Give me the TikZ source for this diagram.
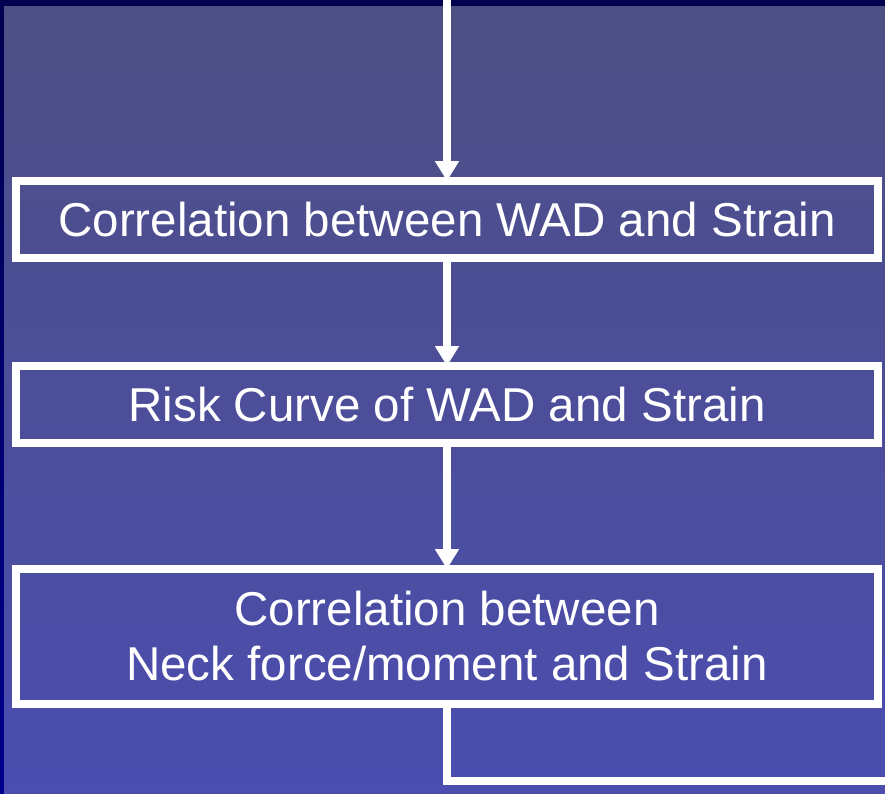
\documentclass[tikz,border=0pt]{standalone}
\usepackage{fontspec}
\setmainfont{Liberation Sans}
\usetikzlibrary{arrows.meta}
\definecolor{frametop}{RGB}{0,0,80}
\definecolor{framebot}{RGB}{0,0,142}
\definecolor{paneltop}{RGB}{77,79,132}
\definecolor{panelbot}{RGB}{75,77,175}
\tikzset{
  flowbox/.style={draw=white, line width=8pt, inner sep=0pt, outer sep=0pt,
    minimum width=862pt, text=white, align=center,
    font=\fontsize{47.5}{55}\selectfont},
  flowline/.style={draw=white, line width=8pt},
  flowarrow/.style={flowline, -{Triangle[width=23pt,length=20pt]}}
}
\begin{document}
\begin{tikzpicture}[x=1pt,y=-1pt]
  \useasboundingbox (0,0) rectangle (885,793);
  \shade[top color=frametop, bottom color=framebot] (0,0) rectangle (885,793);
  \shade[top color=paneltop, bottom color=panelbot] (4,6) rectangle (885,793);

  \node[flowbox, minimum height=77pt] (b1) at (447,219.5) {Correlation between WAD and Strain};
  \node[flowbox, minimum height=77pt] (b2) at (447,404.5) {Risk Curve of WAD and Strain};
  \node[flowbox, minimum height=135pt] (b3) at (447,636.5) {Correlation between\\Neck force/moment and Strain};

  \coordinate (top) at (447,-5);
  \coordinate (c1) at (447,781);
  \coordinate (c2) at (890,781);

  \draw[flowarrow] (top) -- (b1.north);
  \draw[flowarrow] (b1.south) -- (b2.north);
  \draw[flowarrow] (b2.south) -- (b3.north);
  \draw[flowline] (b3.south) -- (c1) -- (c2);
\end{tikzpicture}
\end{document}
